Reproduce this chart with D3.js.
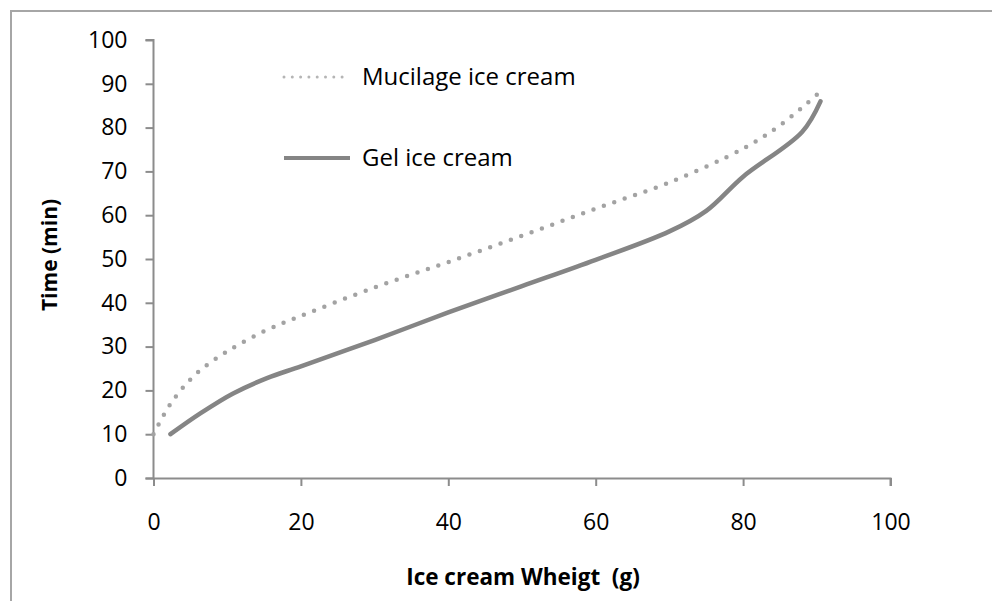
<!DOCTYPE html>
<html>
<head>
<meta charset="utf-8">
<script src="https://cdn.jsdelivr.net/npm/d3@7"></script>
<style>
  html, body { margin: 0; padding: 0; background: #fff; }
  svg { display: block; }
  text { font-family: "Open Sans", "Noto Sans", sans-serif; fill: #000; }
</style>
</head>
<body>
<svg id="chart" width="992" height="601"></svg>
<script>
// Melting time versus ice cream weight for two formulations
const seriesNames = ["Mucilage ice cream", "Gel ice cream"];

const mucilageWeight = [0, 2.5, 5.8, 10, 15, 20, 30, 40, 50, 60, 70, 80, 85, 90];
const mucilageTime   = [10, 17.4, 23.8, 28.9, 33.5, 37, 43.5, 49.3, 55.3, 61.5, 67.5, 75.2, 80.5, 87.5];

const gelWeight = [2.3, 6.4, 10.8, 15.4, 20, 30, 40, 50, 60, 70, 75, 80, 88, 90.5];
const gelTime   = [10, 14.8, 19.3, 22.8, 25.5, 31.5, 37.8, 43.8, 49.8, 56.3, 61, 68.8, 79, 86];

const xTicks = [0, 20, 40, 60, 80, 100];
const yTicks = [0, 10, 20, 30, 40, 50, 60, 70, 80, 90, 100];

const xTitle = "Ice cream Wheigt  (g)";
const yTitle = "Time (min)";

const svg = d3.select("#chart");

// outer chart frame
svg.append("rect")
  .attr("x", 11).attr("y", 11)
  .attr("width", 1000).attr("height", 620)
  .attr("fill", "none").attr("stroke", "#a6a6a6").attr("stroke-width", 2);

const x = d3.scaleLinear().domain([0, 100]).range([153.5, 890.5]);
const y = d3.scaleLinear().domain([0, 100]).range([478, 40]);

// y axis
const yAxis = svg.append("g")
  .attr("transform", `translate(${x(0)},0)`)
  .call(d3.axisLeft(y).tickValues(yTicks).tickSize(8).tickPadding(18));
// x axis
const xAxis = svg.append("g")
  .attr("transform", `translate(0,${y(0)})`)
  .call(d3.axisBottom(x).tickValues(xTicks).tickSize(8).tickPadding(28));

[yAxis, xAxis].forEach(g => {
  g.select(".domain").attr("stroke", "#8c8c8c").attr("stroke-width", 2);
  g.selectAll(".tick line").attr("stroke", "#8c8c8c").attr("stroke-width", 2);
  g.selectAll(".tick text")
    .attr("font-family", "'Open Sans', sans-serif")
    .attr("font-size", 23)
    .attr("fill", "#1a1a1a");
});
// x axis line also runs under the 0 tick of the y axis
xAxis.select(".domain").attr("d", `M${x(0) - 8},0.5H${x(100)}V8`);
yAxis.select(".domain").attr("d", `M-8,${y(100)}H0V${y(0)}`);

const line = d3.line()
  .x(d => x(d[0]))
  .y(d => y(d[1]))
  .curve(d3.curveCatmullRom.alpha(0.5));

const mucilage = mucilageWeight.map((w, i) => [w, mucilageTime[i]]);
const gel = gelWeight.map((w, i) => [w, gelTime[i]]);

svg.append("path")
  .datum(mucilage)
  .attr("d", line)
  .attr("fill", "none")
  .attr("stroke", "#a3a3a3")
  .attr("stroke-width", 4.5)
  .attr("stroke-linecap", "round")
  .attr("stroke-dasharray", "0 11");

svg.append("path")
  .datum(gel)
  .attr("d", line)
  .attr("fill", "none")
  .attr("stroke", "#858585")
  .attr("stroke-width", 4.5)
  .attr("stroke-linecap", "round");

// legend
const legend = svg.append("g");
const legendRows = [
  { name: seriesNames[0], y: 77, dotted: true },
  { name: seriesNames[1], y: 158, dotted: false }
];
legendRows.forEach(r => {
  const ln = legend.append("line")
    .attr("x1", 284).attr("x2", 350)
    .attr("y1", r.y).attr("y2", r.y)
    .attr("fill", "none");
  if (r.dotted) {
    ln.attr("stroke", "#b5b5b5").attr("stroke-width", 3)
      .attr("stroke-linecap", "round").attr("stroke-dasharray", "0 8.3");
  } else {
    ln.attr("stroke", "#858585").attr("stroke-width", 4);
  }
  legend.append("text")
    .attr("x", 362).attr("y", r.y)
    .attr("dy", "0.35em")
    .attr("font-size", 24)
    .attr("fill", "#1a1a1a")
    .text(r.name);
});

// axis titles
svg.append("text")
  .attr("x", (x(0) + x(100)) / 2 + 1)
  .attr("y", 585)
  .attr("text-anchor", "middle")
  .attr("font-weight", "bold")
  .attr("font-size", 22.5)
  .style("white-space", "pre")
  .text(xTitle);

svg.append("text")
  .attr("transform", `translate(57,${(y(0) + y(100)) / 2 - 4}) rotate(-90)`)
  .attr("text-anchor", "middle")
  .attr("font-weight", "bold")
  .attr("font-size", 21)
  .text(yTitle);
</script>
</body>
</html>
